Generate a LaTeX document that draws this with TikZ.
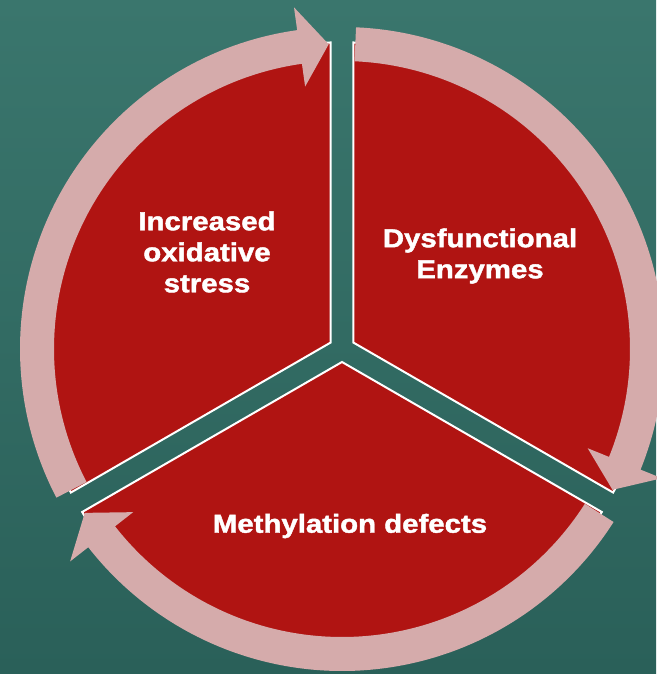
\documentclass[tikz,border=0pt]{standalone}
\usepackage{fontspec}
\newfontfamily\labelfont[FakeStretch=1.13, FakeBold=1.6]{Liberation Sans}

\begin{document}
\begin{tikzpicture}[x=1pt, y=1pt, every node/.style={font=\labelfont\bfseries\fontsize{26}{31}\selectfont, text=white, align=center}]
        \definecolor{cyclered}{RGB}{176,20,18}
        \definecolor{cyclepink}{RGB}{213,171,171}
        \definecolor{tealtop}{RGB}{58,118,109}
        \definecolor{tealbottom}{RGB}{42,96,89}

        % Background
        \useasboundingbox (-342,-325) rectangle (314,349);
        \shade[top color=tealtop, bottom color=tealbottom] (-342,-325) rectangle (314,349);

        % Pie slices, pushed out along their middles
        \foreach \from/\to/\mid in {90/210/150, -30/90/30, 210/330/270}{
            \fill[cyclered, draw=white, line width=2pt, shift={(\mid:13)}]
                (0,0) -- (\from:300) arc[start angle=\from, end angle=\to, radius=300pt] -- cycle;
        }

        % Ring of arrows, clockwise
        \foreach \start/\back/\tip in {207.5/98/92.5, 87.5/-22/-27.5, -32.5/-142/-147.5}{
            \fill[cyclepink] (\start:288) arc[start angle=\start, end angle=\back, radius=288pt]
                -- (\back:265) -- (\tip:305) -- (\back:345) -- (\back:322)
                arc[start angle=\back, end angle=\start, radius=322pt] -- cycle;
        }

        % Labels
        \node (oxidative) at (-135,97) {Increased\\oxidative\\stress};
        \node (enzymes) at (138,93) {Dysfunctional\\Enzymes};
        \node (methylation) at (8,-177) {Methylation defects};
    \end{tikzpicture}
\end{document}
